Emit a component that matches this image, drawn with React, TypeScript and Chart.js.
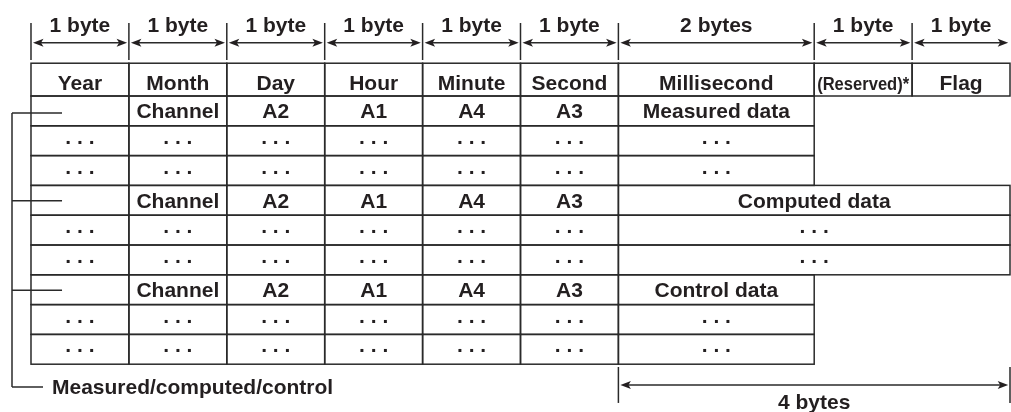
import React, { useEffect, useRef } from "react";
import { Chart, registerables } from "chart.js";

Chart.register(...registerables);

// ---- data ----
const headerLabels = ["Year", "Month", "Day", "Hour", "Minute", "Second", "Millisecond", "(Reserved)*", "Flag"];
const byteWidths = [1, 1, 1, 1, 1, 1, 2, 1, 1];
const byteLabels = ["1 byte", "1 byte", "1 byte", "1 byte", "1 byte", "1 byte", "2 bytes", "1 byte", "1 byte"];
const channelRow = ["", "Channel", "A2", "A1", "A4", "A3"];
const groupNames = ["Measured data", "Computed data", "Control data"];
const groupDataBytes = [2, 4, 2];
const rowsPerGroup = 3;
const dotsText = ". . .";
const bracketLabel = "Measured/computed/control";
const spanLabel = "4 bytes";
const spanBytes = 4;

// ---- style / layout ----
const INK = "#231f20";
const LINE = "#2a2a2a";
const FONT = "bold 21px 'Liberation Sans', Arial, Helvetica, sans-serif";
const FONT_SMALL = "bold 18px 'Liberation Sans', Arial, Helvetica, sans-serif";
const HEADER_H = 1.1;

const borderPlugin = {
  id: "tableDiagram",
  afterDraw(chart: any) {
    const ctx: CanvasRenderingContext2D = chart.ctx;
    const xs = chart.scales.x;
    const ys = chart.scales.y;
    const X = (v: number) => xs.getPixelForValue(v);
    const Y = (v: number) => ys.getPixelForValue(v);

    const cum: number[] = [0];
    byteWidths.forEach((w) => cum.push(cum[cum.length - 1] + w));
    const dataStart = cum[6];

    ctx.save();
    ctx.strokeStyle = LINE;
    ctx.fillStyle = INK;
    ctx.lineWidth = 1.5;
    ctx.textAlign = "center";
    ctx.textBaseline = "alphabetic";

    const rect = (x0: number, x1: number, y0: number, y1: number) => {
      ctx.strokeRect(X(x0), Y(y0), X(x1) - X(x0), Y(y1) - Y(y0));
    };
    const line = (x0: number, y0: number, x1: number, y1: number) => {
      ctx.beginPath();
      ctx.moveTo(x0, y0);
      ctx.lineTo(x1, y1);
      ctx.stroke();
    };
    const head = (tx: number, ty: number, dir: number) => {
      const L = 10.5, H = 4, N = 2.5;
      ctx.beginPath();
      ctx.moveTo(tx, ty);
      ctx.lineTo(tx + dir * L, ty - H);
      ctx.lineTo(tx + dir * (L - N), ty);
      ctx.lineTo(tx + dir * L, ty + H);
      ctx.closePath();
      ctx.fill();
    };
    const arrow = (xa: number, xb: number, y: number) => {
      ctx.lineWidth = 1.4;
      line(xa + 4, y, xb - 4, y);
      head(xa, y, 1);
      head(xb, y, -1);
      ctx.lineWidth = 1.5;
    };
    const text = (s: string, xc: number, rowBottom: number, font = FONT, maxW?: number) => {
      ctx.font = font;
      if (maxW) ctx.fillText(s, X(xc), Y(rowBottom) - 7.5, maxW);
      else ctx.fillText(s, X(xc), Y(rowBottom) - 7.5);
    };
    const dots = (xc: number, rowBottom: number) => {
      ctx.font = FONT;
      ctx.fillText(dotsText, X(xc), (Y(rowBottom) + Y(rowBottom - 1)) / 2 + 3);
    };

    // ---- top byte arrows ----
    const sepTop = -2.45, sepBot = -1.208, arrowY = Y(-1.789);
    for (let i = 0; i < byteWidths.length; i++) {
      line(X(cum[i]), Y(sepTop), X(cum[i]), Y(sepBot));
      arrow(X(cum[i]) + 2, X(cum[i + 1]) - 1.8, arrowY);
      ctx.font = FONT;
      ctx.fillText(byteLabels[i], X((cum[i] + cum[i + 1]) / 2), Y(-2.158));
    }

    // ---- header row ----
    for (let i = 0; i < headerLabels.length; i++) {
      rect(cum[i], cum[i + 1], -HEADER_H, 0);
      const isSmall = headerLabels[i].startsWith("(");
      text(headerLabels[i], (cum[i] + cum[i + 1]) / 2, 0.05, isSmall ? FONT_SMALL : FONT, isSmall ? 92 : undefined);
    }

    // ---- data rows ----
    const totalRows = groupNames.length * rowsPerGroup;
    for (let r = 0; r < totalRows; r++) {
      const g = Math.floor(r / rowsPerGroup);
      const top = r, bottom = r + 1;
      for (let c = 0; c < 6; c++) {
        rect(cum[c], cum[c + 1], top, bottom);
        const xc = (cum[c] + cum[c + 1]) / 2;
        if (r % rowsPerGroup === 0) {
          if (channelRow[c]) text(channelRow[c], xc, bottom);
        } else dots(xc, bottom);
      }
      const dEnd = dataStart + groupDataBytes[g];
      rect(dataStart, dEnd, top, bottom);
      const dc = (dataStart + dEnd) / 2;
      if (r % rowsPerGroup === 0) text(groupNames[g], dc, bottom);
      else dots(dc, bottom);
    }

    // ---- left bracket ----
    const bx = X(-0.194);
    const bracketBottom = Y(9.765);
    const firstTick = (Y(0) + Y(1)) / 2 + 2;
    line(bx, firstTick, bx, bracketBottom);
    for (let g = 0; g < groupNames.length; g++) {
      const r = g * rowsPerGroup;
      const yc = g === 0 ? firstTick : (Y(r) + Y(r + 1)) / 2 + 0.5;
      line(bx, yc, X(0.317), yc);
    }
    line(bx, bracketBottom, X(0.1226), bracketBottom);
    ctx.font = FONT;
    ctx.textAlign = "left";
    ctx.textBaseline = "middle";
    ctx.fillText(bracketLabel, X(0.2145), bracketBottom + 1.5);

    // ---- 4 bytes span ----
    const s0 = dataStart, s1 = dataStart + spanBytes;
    line(X(s0), Y(9.094), X(s0), Y(10.3));
    line(X(s1), Y(9.094), X(s1), Y(10.3));
    arrow(X(s0) + 2, X(s1) - 1.8, Y(9.698));
    ctx.textAlign = "center";
    ctx.textBaseline = "alphabetic";
    ctx.fillText(spanLabel, X((s0 + s1) / 2), Y(10.5));

    ctx.restore();
  },
};

export default function App() {
  const ref = useRef<HTMLCanvasElement | null>(null);
  useEffect(() => {
    if (!ref.current) return;
    const chart = new Chart(ref.current, {
      type: "scatter",
      data: { datasets: [{ data: [], pointRadius: 0 }] },
      options: {
        animation: false,
        responsive: false,
        devicePixelRatio: 1,
        layout: { padding: 0 },
        plugins: { legend: { display: false }, tooltip: { enabled: false } },
        scales: {
          x: { type: "linear", min: -0.3166, max: 10.0102, display: false },
          y: { type: "linear", min: -3.2215, max: 10.604, reverse: true, display: false },
        },
      },
      plugins: [borderPlugin],
    });
    return () => chart.destroy();
  }, []);
  return (
    <div style={{ position: "fixed", left: 0, top: 0, width: 1011, height: 412, background: "#fff" }}>
      <canvas ref={ref} width={1011} height={412} style={{ display: "block", width: 1011, height: 412 }} />
    </div>
  );
}
